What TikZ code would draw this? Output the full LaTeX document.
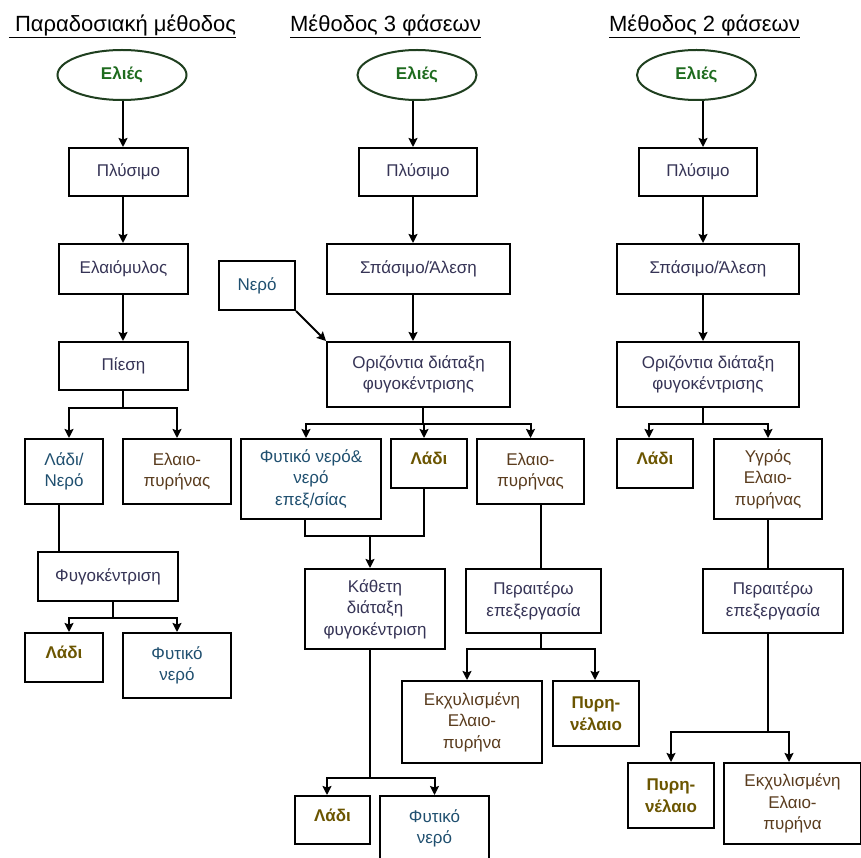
\documentclass[tikz,border=0pt]{standalone}
\usepackage{fontspec}
\setmainfont{Liberation Sans}
\usetikzlibrary{arrows.meta,shapes.geometric}
\definecolor{procc}{HTML}{363456}
\definecolor{greenc}{HTML}{1E6B1E}
\definecolor{ovalc}{HTML}{1F3F1F}
\definecolor{oilc}{HTML}{6B5500}
\definecolor{pomc}{HTML}{5A3C1E}
\definecolor{vegc}{HTML}{1F4F6F}
\begin{document}
\begin{tikzpicture}[x=1pt,y=-1pt,
  box/.style={draw, line width=2pt, rectangle, inner sep=0pt, align=center,
    anchor=north west, font=\fontsize{17}{21.5}\selectfont, text=procc},
  oil/.style={font=\bfseries\fontsize{17}{21.5}\selectfont, text=oilc},
  up/.style={text depth=10pt},
  pom/.style={font=\fontsize{17}{21.5}\selectfont, text=pomc},
  veg/.style={font=\fontsize{17}{21.5}\selectfont, text=vegc},
  oval/.style={draw=ovalc, line width=2pt, ellipse, inner sep=0pt,
    minimum height=50pt, font=\bfseries\fontsize{17}{21.5}\selectfont, text=greenc},
  arr/.style={line width=2pt, -{Stealth[length=9pt,width=9pt,inset=1.5pt]}},
  ln/.style={line width=2pt},
  ttl/.style={font=\fontsize{22}{26}\selectfont, inner sep=0pt}]
\clip (0,0) rectangle (861,858);
\fill[white] (0,0) rectangle (861,858);
% titles
\node[ttl] (t1) at (122.5,26) {\underline{\ Παραδοσιακή μέθοδος}};
\node[ttl] (t2) at (385.5,26) {\underline{Μέθοδος 3 φάσεων}};
\node[ttl] (t3) at (704.5,26) {\underline{Μέθοδος 2 φάσεων}};
% column 1
\node[oval, minimum width=129pt] (e1) at (122,75) {Ελιές};
\node[box, minimum width=119pt, minimum height=48pt] (p1) at (68,147) {Πλύσιμο};
\node[box, minimum width=129pt, minimum height=50pt] (m1) at (58,243) {Ελαιόμυλος};
\node[box, minimum width=129pt, minimum height=48pt] (pr1) at (58,341) {Πίεση};
\node[box, veg, minimum width=78pt, minimum height=65pt] (ln1) at (24,438) {Λάδι/\\Νερό};
\node[box, pom, minimum width=108pt, minimum height=65pt] (ep1) at (122,438) {Ελαιο-\\πυρήνας};
\node[box, minimum width=140pt, minimum height=49pt] (f1) at (37,551) {Φυγοκέντριση};
\node[box, oil, up, minimum width=78pt, minimum height=49pt] (l1) at (24,632) {Λάδι};
\node[box, veg, minimum width=108pt, minimum height=65pt] (fn1) at (122,632) {Φυτικό\\νερό};
% column 2
\node[oval, minimum width=119pt] (e2) at (417,75) {Ελιές};
\node[box, minimum width=118pt, minimum height=48pt] (p2) at (358,147) {Πλύσιμο};
\node[box, minimum width=183pt, minimum height=50pt] (s2) at (326,243) {Σπάσιμο/Άλεση};
\node[box, veg, minimum width=76pt, minimum height=49pt] (nero) at (218,260) {Νερό};
\node[box, minimum width=183pt, minimum height=65pt] (o2) at (326,341) {Οριζόντια διάταξη\\φυγοκέντρισης};
\node[box, veg, minimum width=140pt, minimum height=80pt] (fn2) at (240,438) {Φυτικό νερό\&\\νερό\\επεξ/σίας};
\node[box, oil, up, minimum width=76pt, minimum height=49pt] (l2) at (390,438) {Λάδι};
\node[box, pom, minimum width=107pt, minimum height=65pt] (ep2) at (476,438) {Ελαιο-\\πυρήνας};
\node[box, minimum width=140pt, minimum height=80pt] (k2) at (304,568) {Κάθετη\\διάταξη\\φυγοκέντριση};
\node[box, minimum width=135pt, minimum height=64pt] (pe2) at (465,568) {Περαιτέρω\\επεξεργασία};
\node[box, pom, minimum width=140pt, minimum height=82pt] (ek2) at (401,680) {Εκχυλισμένη\\Ελαιο-\\πυρήνα};
\node[box, oil, minimum width=86pt, minimum height=65pt] (py2) at (552,680) {Πυρη-\\νέλαιο};
\node[box, oil, up, minimum width=75pt, minimum height=48pt] (l2b) at (294,795) {Λάδι};
\node[box, veg, minimum width=109pt, minimum height=65pt] (fn2b) at (379,795) {Φυτικό\\νερό};
% column 3
\node[oval, minimum width=119pt] (e3) at (696.5,75) {Ελιές};
\node[box, minimum width=118pt, minimum height=48pt] (p3) at (638,147) {Πλύσιμο};
\node[box, minimum width=182pt, minimum height=50pt] (s3) at (616,243) {Σπάσιμο/Άλεση};
\node[box, minimum width=182pt, minimum height=65pt] (o3) at (616,341) {Οριζόντια διάταξη\\φυγοκέντρισης};
\node[box, oil, up, minimum width=76pt, minimum height=49pt] (l3) at (616,438) {Λάδι};
\node[box, pom, minimum width=108pt, minimum height=80pt] (ug3) at (713,438) {Υγρός\\Ελαιο-\\πυρήνας};
\node[box, minimum width=140pt, minimum height=64pt] (pe3) at (702,568) {Περαιτέρω\\επεξεργασία};
\node[box, oil, minimum width=86pt, minimum height=65pt] (py3) at (627,762) {Πυρη-\\νέλαιο};
\node[box, pom, minimum width=137pt, minimum height=81pt] (ek3) at (723,762) {Εκχυλισμένη\\Ελαιο-\\πυρήνα};
% helper x positions
\coordinate (x1) at (123,0);
\coordinate (x2) at (413,0);
\coordinate (x2b) at (423,0);
\coordinate (x3) at (703,0);
% connectors column 1
\draw[arr] (e1.south -| x1) -- (p1.north -| x1);
\draw[arr] (p1.south -| x1) -- (m1.north -| x1);
\draw[arr] (m1.south -| x1) -- (pr1.north -| x1);
\draw[arr] (pr1.south -| x1) -- ++(0,17) -| ([xshift=5pt]ln1.north);
\draw[arr] (pr1.south -| x1) -- ++(0,17) -| (ep1.north);
\draw[ln] ([xshift=-5pt]ln1.south) -- ([xshift=-5pt]ln1.south |- f1.north);
\draw[arr] ([xshift=5pt]f1.south) -- ++(0,16) -| ([xshift=5pt]l1.north);
\draw[arr] ([xshift=5pt]f1.south) -- ++(0,16) -| (fn1.north);
% connectors column 2
\draw[arr] (e2.south -| x2) -- (p2.north -| x2);
\draw[arr] (p2.south -| x2) -- (s2.north -| x2);
\draw[arr] (s2.south -| x2) -- (o2.north -| x2);
\draw[arr] (nero.south east) -- (o2.north west);
\draw[arr] (o2.south -| x2b) -- ++(0,16) -| ([xshift=-5pt]fn2.north);
\draw[arr] (o2.south -| x2b) -- ++(0,16) -| ([xshift=-5pt]l2.north);
\draw[arr] (o2.south -| x2b) -- ++(0,16) -| (ep2.north);
\draw[ln] ([xshift=-6pt]fn2.south) -- ++(0,16) coordinate (mg) -| ([xshift=-5pt]l2.south);
\coordinate (k2a) at ([xshift=-5pt]k2.north);
\draw[arr] (mg -| k2a) -- (k2a);
\coordinate (ep2a) at ([xshift=10.5pt]ep2.south);
\draw[ln] (ep2a) -- (ep2a |- pe2.north);
\draw[arr] (pe2.south -| ep2a) -- ++(0,15) -| ([xshift=-5pt]ek2.north);
\draw[arr] (pe2.south -| ep2a) -- ++(0,15) -| ([xshift=-1pt]py2.north);
\draw[arr] (k2.south -| k2a) -- ++(0,128) -| ([xshift=-5.5pt]l2b.north);
\draw[arr] (k2.south -| k2a) -- ++(0,128) -| (fn2b.north);
% connectors column 3
\draw[arr] (e3.south -| x3) -- (p3.north -| x3);
\draw[arr] (p3.south -| x3) -- (s3.north -| x3);
\draw[arr] (s3.south -| x3) -- (o3.north -| x3);
\draw[arr] (o3.south -| x3) -- ++(0,16) -| ([xshift=-6pt]l3.north);
\draw[arr] (o3.south -| x3) -- ++(0,16) -| (ug3.north);
\draw[ln] (ug3.south) -- (ug3.south |- pe3.north);
\draw[arr] (pe3.south -| ug3.south) -- ++(0,98) -| (py3.north);
\draw[arr] (pe3.south -| ug3.south) -- ++(0,98) -| ([xshift=-3.5pt]ek3.north);
\end{tikzpicture}
\end{document}
